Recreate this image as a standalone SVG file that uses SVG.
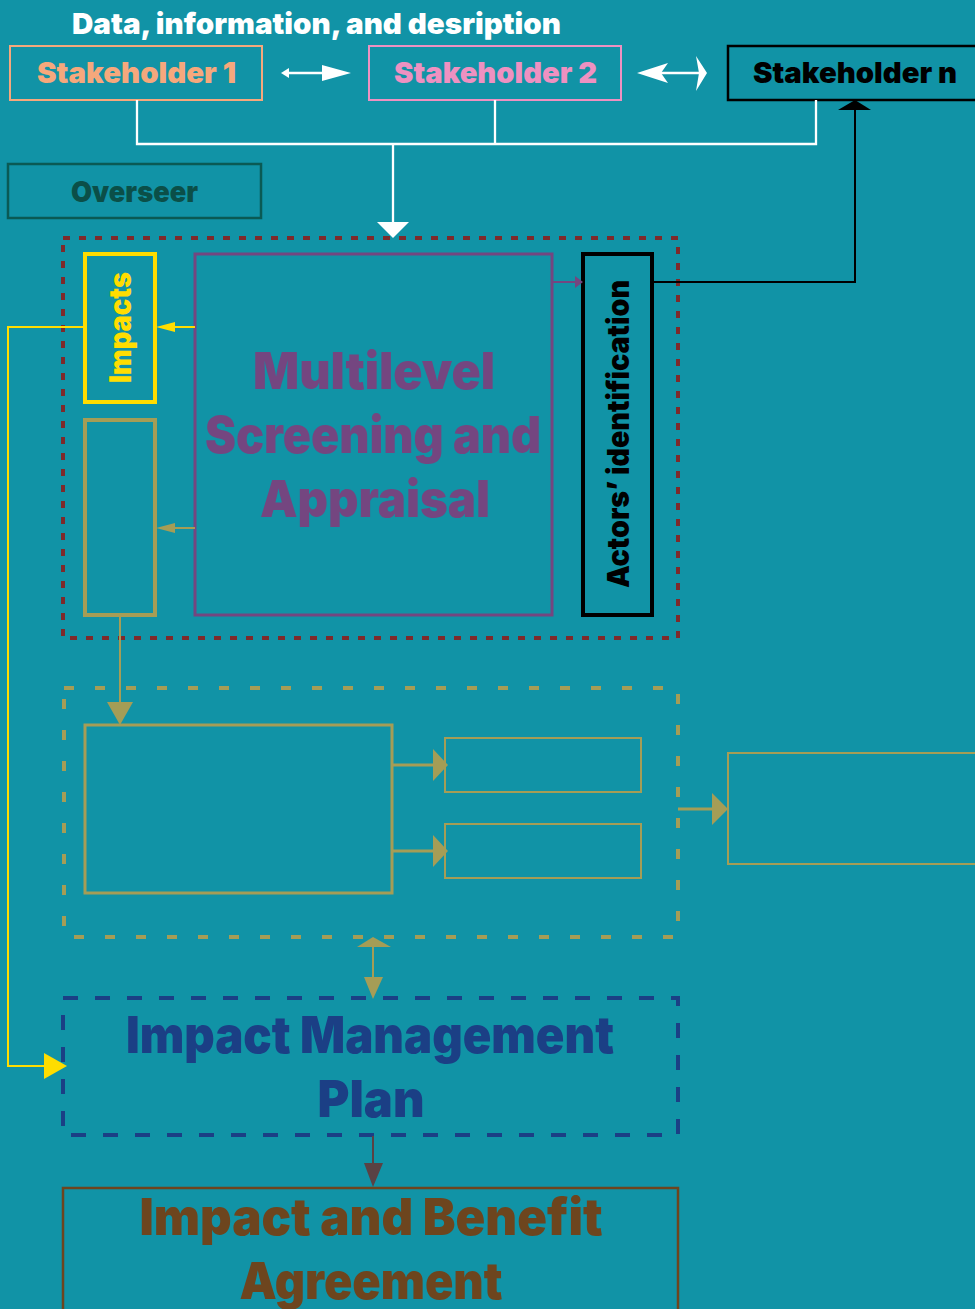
<svg xmlns="http://www.w3.org/2000/svg" width="975" height="1309" viewBox="0 0 975 1309">
<style>
.t{font-family:Inter,Roboto,"DejaVu Sans",sans-serif;font-weight:900}
.box{fill:none}
.w{stroke:#ffffff;stroke-width:2.3;fill:none}
.wf{fill:#ffffff}
.ol{stroke:#a59d56;fill:none}
.olf{fill:#a59d56}
</style>
<rect width="975" height="1309" fill="#1193a6"/>

<text class="t" x="72" y="34" font-size="29" fill="#ffffff" textLength="489" lengthAdjust="spacingAndGlyphs">Data, information, and desription</text>

<g id="stakeholder1">
<rect class="box" x="10" y="46" width="252" height="54" stroke="#f6a87c" stroke-width="2"/>
<text class="t" x="37" y="83" font-size="29" fill="#f6a87c" textLength="199" lengthAdjust="spacingAndGlyphs">Stakeholder 1</text>
</g>
<g id="stakeholder2">
<rect class="box" x="369" y="46" width="252" height="54" stroke="#ee91c1" stroke-width="2"/>
<text class="t" x="394" y="83" font-size="29" fill="#ee91c1" textLength="203" lengthAdjust="spacingAndGlyphs">Stakeholder 2</text>
</g>
<g id="stakeholdern">
<rect class="box" x="728" y="46" width="260" height="54" stroke="#000000" stroke-width="2.5"/>
<text class="t" x="753" y="83" font-size="29" fill="#000000" textLength="204" lengthAdjust="spacingAndGlyphs">Stakeholder n</text>
</g>
<g id="overseer">
<rect class="box" x="8" y="164" width="253" height="54" stroke="#0a5a54" stroke-width="2.5"/>
<text class="t" x="71" y="202" font-size="29" fill="#0b4f48" textLength="127" lengthAdjust="spacingAndGlyphs">Overseer</text>
</g>

<g id="screening-group">
<rect class="box" x="63" y="238" width="615" height="400" stroke="#7d2a2b" stroke-width="4" stroke-dasharray="7 9"/>
</g>
<g id="impacts">
<rect class="box" x="85" y="254" width="70" height="148" stroke="#ffdd00" stroke-width="4"/>
<text class="t" transform="translate(131,327.5) rotate(-90)" text-anchor="middle" font-size="30" fill="#ffdd00" textLength="111" lengthAdjust="spacingAndGlyphs">Impacts</text>
</g>
<g id="empty-olive">
<rect class="box ol" x="85" y="420" width="70" height="195" stroke-width="4"/>
</g>
<g id="multilevel">
<rect class="box" x="195" y="254" width="357" height="361" stroke="#744680" stroke-width="3"/>
<g class="t" font-size="51" fill="#744680" text-anchor="middle">
<text x="374" y="389" textLength="242" lengthAdjust="spacingAndGlyphs">Multilevel</text>
<text x="373" y="453" textLength="336" lengthAdjust="spacingAndGlyphs">Screening and</text>
<text x="375" y="517" textLength="230" lengthAdjust="spacingAndGlyphs">Appraisal</text>
</g>
</g>
<g id="actors">
<rect class="box" x="583" y="254" width="69" height="361" stroke="#000000" stroke-width="4"/>
<text class="t" transform="translate(629,434) rotate(-90)" text-anchor="middle" font-size="30" fill="#000000" textLength="308" lengthAdjust="spacingAndGlyphs">Actors’ identification</text>
</g>

<g id="assessment-group">
<rect class="box ol" x="64" y="688" width="614" height="249" stroke-width="4" stroke-dasharray="10 21"/>
</g>
<g id="assessment-main">
<rect class="box ol" x="85" y="725" width="307" height="168" stroke-width="3"/>
</g>
<g id="assessment-a">
<rect class="box ol" x="445" y="738" width="196" height="54" stroke-width="2"/>
</g>
<g id="assessment-b">
<rect class="box ol" x="445" y="824" width="196" height="54" stroke-width="2"/>
</g>
<g id="outside-box">
<rect class="box ol" x="728" y="753" width="260" height="111" stroke-width="2"/>
</g>

<g id="impact-management-plan">
<rect class="box" x="63" y="998" width="615" height="137" stroke="#1b3f85" stroke-width="4" stroke-dasharray="15 17"/>
<g class="t" font-size="51" fill="#1b3f85" text-anchor="middle">
<text x="370" y="1053" textLength="488" lengthAdjust="spacingAndGlyphs">Impact Management</text>
<text x="371" y="1117" textLength="107" lengthAdjust="spacingAndGlyphs">Plan</text>
</g>
</g>
<g id="iba-agreement">
<rect class="box" x="63" y="1188" width="615" height="140" stroke="#6d451e" stroke-width="2.5"/>
<g class="t" font-size="51" fill="#6d451e" text-anchor="middle">
<text x="371" y="1235" textLength="463" lengthAdjust="spacingAndGlyphs">Impact and Benefit</text>
<text x="371" y="1299" textLength="263" lengthAdjust="spacingAndGlyphs">Agreement</text>
</g>
</g>

<g id="connectors">
<line class="w" x1="284" y1="73" x2="324" y2="73"/>
<polygon class="wf" points="281,73 289,68 289,78"/>
<polygon class="wf" points="322,65 351,73 322,81"/>
<line class="w" x1="660" y1="73" x2="700" y2="73"/>
<polygon class="wf" points="637,73 668,63 661,73 668,83"/>
<polygon class="wf" points="696,56 707,73 696,91 699,73"/>
<polyline class="w" points="137,100 137,144 816,144 816,100"/>
<line class="w" x1="495" y1="100" x2="495" y2="144"/>
<line class="w" x1="393" y1="144" x2="393" y2="224"/>
<polygon class="wf" points="377,222 409,222 393,238"/>

<line x1="195" y1="327" x2="160" y2="327" stroke="#ffdd00" stroke-width="2"/>
<polygon points="156,327 175,322 175,332" fill="#ffdd00"/>
<line x1="195" y1="528" x2="160" y2="528" stroke="#a59d56" stroke-width="2"/>
<polygon points="156,528 175,523 175,533" fill="#a59d56"/>
<line x1="552" y1="282" x2="578" y2="282" stroke="#744680" stroke-width="2"/>
<polygon points="583,282 575,276 575,288" fill="#744680"/>

<polyline points="652,282 855,282 855,106" fill="none" stroke="#000000" stroke-width="2"/>
<polygon points="838,110 855,100 871,110" fill="#000000"/>

<polyline points="85,327 8,327 8,1066 48,1066" fill="none" stroke="#ffdd00" stroke-width="2"/>
<polygon points="44,1053 67,1066 44,1079" fill="#ffdd00"/>

<line class="ol" x1="120" y1="615" x2="120" y2="706" stroke-width="2"/>
<polygon class="olf" points="107,702 133,702 120,725"/>
<line class="ol" x1="392" y1="765" x2="436" y2="765" stroke-width="3"/>
<polygon class="olf" points="433,749 448,765 433,781"/>
<line class="ol" x1="392" y1="851" x2="436" y2="851" stroke-width="3"/>
<polygon class="olf" points="433,835 448,851 433,867"/>
<line class="ol" x1="678" y1="809" x2="714" y2="809" stroke-width="3"/>
<polygon class="olf" points="712,793 728,809 712,825"/>
<line class="ol" x1="373" y1="945" x2="373" y2="982" stroke-width="2"/>
<polygon class="olf" points="357,947 373,937 391,947"/>
<polygon class="olf" points="364,977 383,977 373,999"/>

<line x1="373" y1="1136" x2="373" y2="1166" stroke="#5a4244" stroke-width="2"/>
<polygon points="364,1163 383,1163 373,1187" fill="#5a4244"/>
</g>
</svg>
